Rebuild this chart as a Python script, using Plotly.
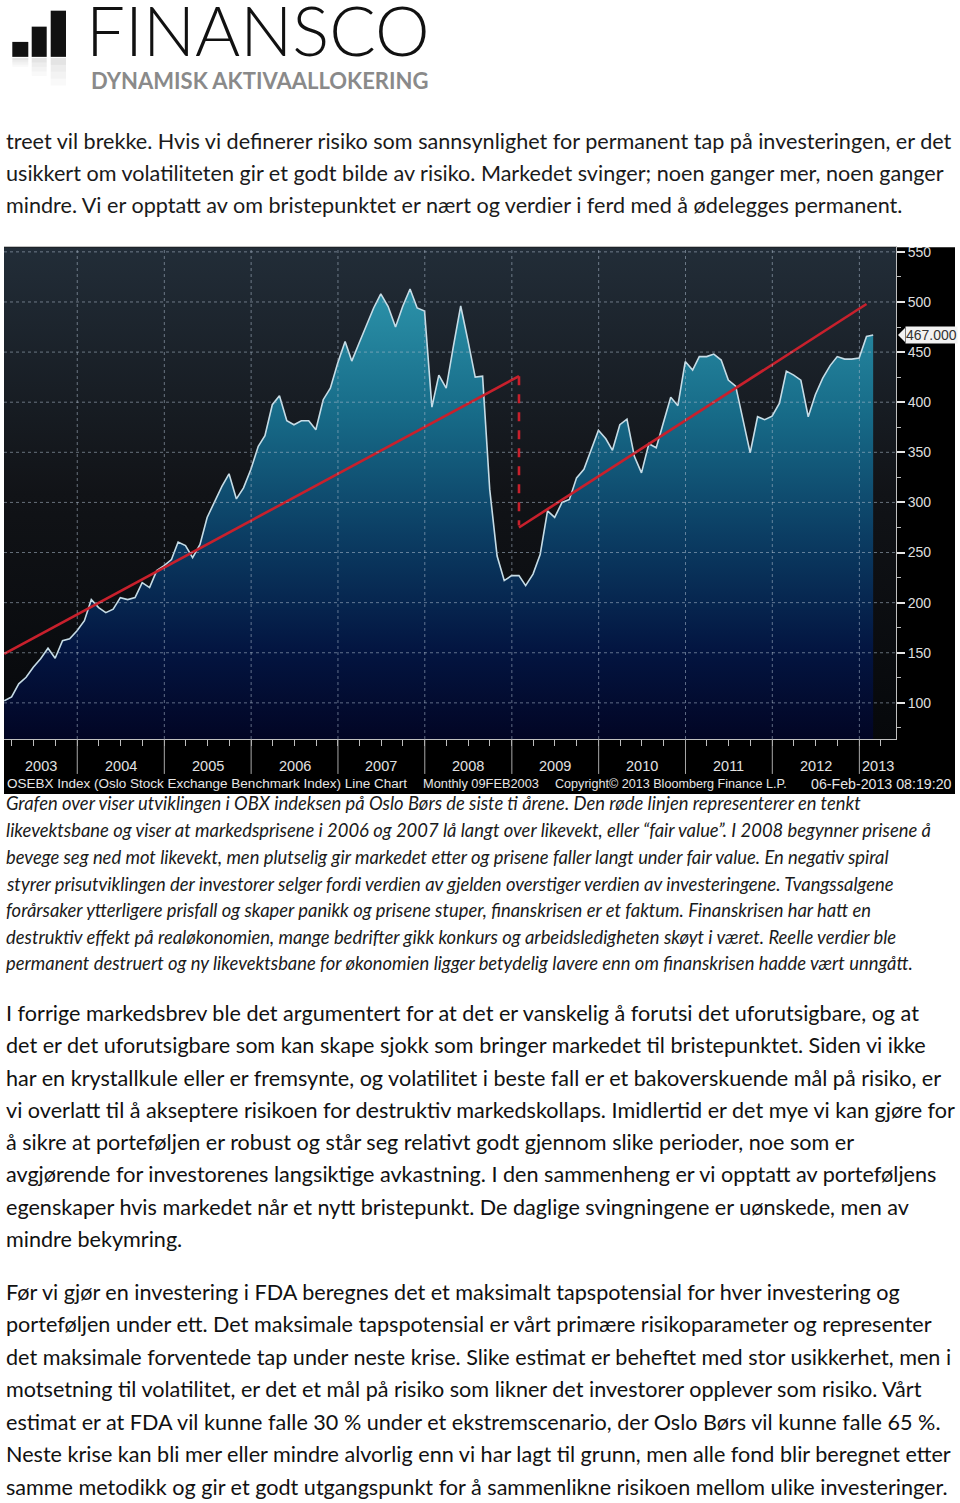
import plotly.graph_objects as go
import pandas as pd

W, H = 960, 1503
def px(x): return x / W
def py(y): return 1 - y / H

# ---------------- data ----------------
osebx = [102, 106, 119, 125.5, 135.5, 144, 154.5, 144.5, 162, 164, 172, 182,
         203, 195, 190, 193.5, 205, 203, 205, 220, 215, 232, 237, 243,
         260.5, 257, 245, 258, 285, 300, 316, 328.5, 303.5, 314.5, 333, 356,
         366.5, 397.5, 406.5, 381.5, 377.5, 381.5, 381.5, 372.5, 402.5, 414, 439, 460.5,
         441, 459, 477, 494, 508, 495.5, 475, 495.5, 513, 494, 491, 395,
         427, 414, 455.5, 496, 462, 425, 426, 313, 246.5, 222, 227, 227,
         217, 228.5, 248, 291.5, 285, 300, 303, 324.5, 333, 353, 372, 363.5,
         352, 377.5, 383, 346, 329.5, 358.5, 354.5, 379.5, 405, 396.5, 440.5, 432,
         445.5, 445.5, 448, 442, 422, 416, 382.5, 349.5, 385.5, 382.5, 386, 399,
         431, 427, 422, 385.5, 407.5, 424, 436.5, 445.5, 443, 443, 444, 465.5, 467]
month_ends = (pd.date_range("2003-03-01", periods=len(osebx), freq="MS") - pd.Timedelta(days=1))
dates = month_ends.strftime("%Y-%m-%d").tolist()

trend1_x = [dates[0], dates[71]]
trend1_y = [149, 426]
break_x = [dates[71], dates[71]]
break_y = [426, 277]
trend2_x = [dates[71], dates[119]]
trend2_y = [275, 498]

y_ticks = [100, 150, 200, 250, 300, 350, 400, 450, 500, 550]
years = list(range(2003, 2014))
last_label = "467.000"

x_range = ["2003-02-27", "2013-06-04"]
y_range = [63.9, 554.5]

p1_lines = [
    "treet vil brekke. Hvis vi definerer risiko som sannsynlighet for permanent tap på investeringen, er det",
    "usikkert om volatiliteten gir et godt bilde av risiko. Markedet svinger; noen ganger mer, noen ganger",
    "mindre. Vi er opptatt av om bristepunktet er nært og verdier i ferd med å ødelegges permanent.",
]
p1_y = [141, 173, 206]

caption_lines = [
    "Grafen over viser utviklingen i OBX indeksen på Oslo Børs de siste ti årene. Den røde linjen representerer en tenkt",
    "likevektsbane og viser at markedsprisene i 2006 og 2007 lå langt over likevekt, eller “fair value”. I 2008 begynner prisene å",
    "bevege seg ned mot likevekt, men plutselig gir markedet etter og prisene faller langt under fair value. En negativ spiral",
    "styrer prisutviklingen der investorer selger fordi verdien av gjelden overstiger verdien av investeringene. Tvangssalgene",
    "forårsaker ytterligere prisfall og skaper panikk og prisene stuper, finanskrisen er et faktum. Finanskrisen har hatt en",
    "destruktiv effekt på realøkonomien, mange bedrifter gikk konkurs og arbeidsledigheten skøyt i været. Reelle verdier ble",
    "permanent destruert og ny likevektsbane for økonomien ligger betydelig lavere enn om finanskrisen hadde vært unngått.",
]
caption_y = [803, 830, 857, 884, 910, 937, 963]

p2_lines = [
    "I forrige markedsbrev ble det argumentert for at det er vanskelig å forutsi det uforutsigbare, og at",
    "det er det uforutsigbare som kan skape sjokk som bringer markedet til bristepunktet. Siden vi ikke",
    "har en krystallkule eller er fremsynte, og volatilitet i beste fall er et bakoverskuende mål på risiko, er",
    "vi overlatt til å akseptere risikoen for destruktiv markedskollaps. Imidlertid er det mye vi kan gjøre for",
    "å sikre at porteføljen er robust og står seg relativt godt gjennom slike perioder, noe som er",
    "avgjørende for investorenes langsiktige avkastning. I den sammenheng er vi opptatt av porteføljens",
    "egenskaper hvis markedet når et nytt bristepunkt. De daglige svingningene er uønskede, men av",
    "mindre bekymring.",
]
p2_y = [1013, 1045, 1078, 1110, 1143, 1175, 1208, 1240]

p3_lines = [
    "Før vi gjør en investering i FDA beregnes det et maksimalt tapspotensial for hver investering og",
    "porteføljen under ett. Det maksimale tapspotensial er vårt primære risikoparameter og representer",
    "det maksimale forventede tap under neste krise. Slike estimat er beheftet med stor usikkerhet, men i",
    "motsetning til volatilitet, er det et mål på risiko som likner det investorer opplever som risiko. Vårt",
    "estimat er at FDA vil kunne falle 30 % under et ekstremscenario, der Oslo Børs vil kunne falle 65 %.",
    "Neste krise kan bli mer eller mindre alvorlig enn vi har lagt til grunn, men alle fond blir beregnet etter",
    "samme metodikk og gir et godt utgangspunkt for å sammenlikne risikoen mellom ulike investeringer.",
]
p3_y = [1293, 1325, 1358, 1390, 1423, 1455, 1488]

# text, x position, anchor, size
info_parts = [
    ("OSEBX Index (Oslo Stock Exchange Benchmark Index) Line Chart", 5, "left", 13.5),
    ("Monthly 09FEB2003", 421, "left", 12.8),
    ("Copyright© 2013 Bloomberg Finance L.P.", 553, "left", 12.6),
    ("06-Feb-2013 08:19:20", 954, "right", 14.2),
]

# ---------------- figure ----------------
fig = go.Figure()

# plot-area background gradient
fig.add_trace(go.Scatter(
    x=x_range, y=[y_range[1], y_range[1]], mode="none", fill="tozeroy",
    fillgradient=dict(type="vertical", start=y_range[0], stop=y_range[1],
                      colorscale=[[0, "#06080b"], [0.5, "#111317"], [1, "#222d38"]]),
    hoverinfo="skip", showlegend=False))

# index area
fig.add_trace(go.Scatter(
    x=dates, y=osebx, mode="lines", fill="tozeroy",
    line=dict(color="#c6dce6", width=1.6),
    fillgradient=dict(type="vertical", start=y_range[0], stop=515,
                      colorscale=[[0, "#020524"], [0.2, "#031541"], [0.45, "#0b3d63"],
                                  [0.72, "#176b88"], [1, "#2c93aa"]]),
    hoverinfo="skip", showlegend=False))

red = "#c8202c"
fig.add_trace(go.Scatter(x=trend1_x, y=trend1_y, mode="lines",
                         line=dict(color=red, width=2.6), hoverinfo="skip", showlegend=False))
fig.add_trace(go.Scatter(x=break_x, y=break_y, mode="lines",
                         line=dict(color=red, width=2.6, dash="dash"), hoverinfo="skip", showlegend=False))
fig.add_trace(go.Scatter(x=trend2_x, y=trend2_y, mode="lines",
                         line=dict(color=red, width=2.6), hoverinfo="skip", showlegend=False))

shapes = []
# black chart panel
shapes.append(dict(type="rect", xref="paper", yref="paper", x0=px(4), x1=px(955),
                   y0=py(792), y1=py(244), fillcolor="#000000", line_width=0, layer="below"))
# dotted grid above the fill
grid_col = "rgba(175,190,205,0.55)"
for v in y_ticks:
    shapes.append(dict(type="line", xref="x", yref="y", x0=x_range[0], x1=x_range[1], y0=v, y1=v,
                       line=dict(color=grid_col, width=1, dash="dot"), layer="above"))
for yr in years[1:]:
    d = f"{yr}-01-01"
    shapes.append(dict(type="line", xref="x", yref="y", x0=d, x1=d, y0=y_range[0], y1=y_range[1],
                       line=dict(color=grid_col, width=1, dash="dot"), layer="above"))
    shapes.append(dict(type="line", xref="x", yref="paper", x0=d, x1=d, y0=py(772), y1=py(737),
                       line=dict(color="#a8a8a8", width=1), layer="above"))

# pointer of the last value flag
shapes.append(dict(type="path", xref="paper", yref="y",
                   path=f"M {px(898)},{osebx[-1]} L {px(905)},{osebx[-1]+7} L {px(905)},{osebx[-1]-7} Z",
                   fillcolor="#f2f2f2", line_width=0, layer="above"))

# logo bars + reflection
bars = [(12.3, 28.3, 38), (31.7, 46.7, 22.7), (50.7, 66, 6.7)]
for x0, x1, top in bars:
    shapes.append(dict(type="rect", xref="paper", yref="paper", x0=px(x0), x1=px(x1),
                       y0=py(53), y1=py(top), fillcolor="#111111", line_width=0))
    h = 53 - top
    for k, op in enumerate([0.16, 0.11, 0.07, 0.04]):
        a = 54 + k * h * 0.15
        b = 54 + (k + 1) * h * 0.15
        shapes.append(dict(type="rect", xref="paper", yref="paper", x0=px(x0), x1=px(x1),
                           y0=py(b), y1=py(a), fillcolor=f"rgba(90,90,90,{op})", line_width=0))

ann = []
# logo text
ann.append(dict(text="FINANSCO", xref="paper", yref="paper", x=px(84), y=py(26),
                xanchor="left", yanchor="middle", showarrow=False,
                font=dict(family="Lato", size=69, color="#111111", weight=300)))
ann.append(dict(text="DYNAMISK AKTIVAALLOKERING", xref="paper", yref="paper", x=px(89), y=py(77),
                xanchor="left", yanchor="middle", showarrow=False,
                font=dict(family="Lato", size=22, color="#8a8a8a", weight=700)))

for t, yy in zip(p1_lines, p1_y):
    ann.append(dict(text=t, xref="paper", yref="paper", x=px(4), y=py(yy - 4), xanchor="left",
                    yanchor="middle", showarrow=False, font=dict(family="Lato", size=21.6, color="#1a1a1a")))
for t, yy in zip(caption_lines, caption_y):
    ann.append(dict(text=f"<i>{t}</i>", xref="paper", yref="paper", x=px(4), y=py(yy - 1.5), xanchor="left",
                    yanchor="middle", showarrow=False,
                    font=dict(family="Lato", size=18.4, color="#1a1a1a", style="italic")))
for t, yy in zip(p2_lines + p3_lines, p2_y + p3_y):
    ann.append(dict(text=t, xref="paper", yref="paper", x=px(4), y=py(yy - 1.5), xanchor="left",
                    yanchor="middle", showarrow=False, font=dict(family="Lato", size=21.6, color="#111111")))

# year labels centred on the visible part of each year
r0, r1 = pd.Timestamp(x_range[0]), pd.Timestamp(x_range[1])
for yr in years:
    s = max(r0, pd.Timestamp(f"{yr}-01-01"))
    e = min(r1, pd.Timestamp(f"{yr + 1}-01-01"))
    c = s + (e - s) / 2
    ann.append(dict(text=str(yr), xref="x", yref="paper", x=c.strftime("%Y-%m-%d %H:%M"), y=py(764),
                    xanchor="center", yanchor="middle", showarrow=False,
                    font=dict(family="Liberation Sans", size=14.5, color="#e2e2e2")))
for t, xx, anc, sz in info_parts:
    ann.append(dict(text=t, xref="paper", yref="paper", x=px(xx), y=py(782), xanchor=anc,
                    yanchor="middle", showarrow=False,
                    font=dict(family="Liberation Sans", size=sz, color="#e6e6e6")))
# last value flag
ann.append(dict(text=last_label, xref="paper", yref="y", x=px(905), y=osebx[-1], xanchor="left",
                yanchor="middle", showarrow=False, bgcolor="#f2f2f2", borderpad=0,
                font=dict(family="Liberation Sans", size=14, color="#333333")))

fig.update_layout(
    width=W, height=H, autosize=False,
    margin=dict(l=0, r=0, t=0, b=0),
    paper_bgcolor="#ffffff", plot_bgcolor="#000000",
    hovermode=False, showlegend=False,
    shapes=shapes, annotations=ann,
    xaxis=dict(type="date", range=x_range, domain=[px(4), px(896)],
               showgrid=False, zeroline=False, showticklabels=False,
               ticks="outside", tick0="2003-01-01", dtick="M3", ticklen=6, tickcolor="#bdbdbd",
               showline=True, mirror=True, linecolor="#bfbfbf", linewidth=1),
    yaxis=dict(range=y_range, domain=[py(737), py(244)], side="right",
               tickvals=y_ticks, showgrid=False, zeroline=False,
               ticks="outside", ticklen=8, tickwidth=2, tickcolor="#e6e6e6",
               minor=dict(tickvals=[v + 25 for v in [50] + y_ticks[:-1]], ticks="outside",
                          ticklen=4, tickcolor="#bdbdbd", tickwidth=1),
               tickfont=dict(family="Liberation Sans", size=14, color="#dedede"),
               showline=True, linecolor="#bfbfbf", linewidth=1),
)

fig.write_html("out.html")
